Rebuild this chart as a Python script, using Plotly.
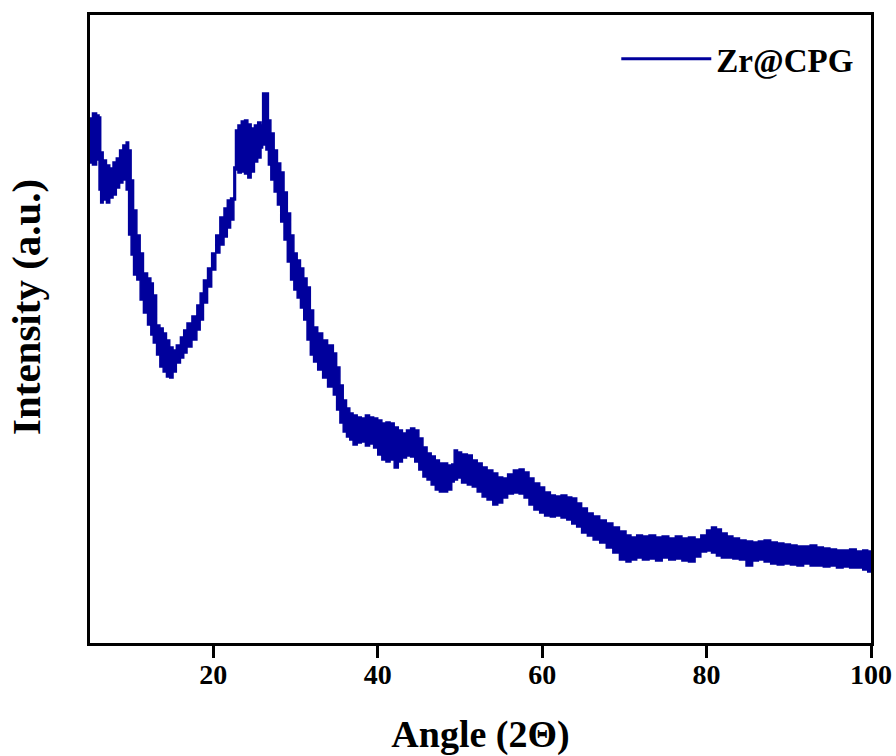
import plotly.graph_objects as go

# XRD pattern of Zr@CPG: noisy scan drawn as the band between the
# upper and lower envelope of the counts at each angle (arbitrary units).
angle = [
    5.0, 5.3, 5.8, 6.1, 6.3, 6.6, 7.0, 7.4, 7.8, 8.2, 8.6, 9.0, 9.4, 9.7,
    10.0, 10.3, 10.7, 11.1, 11.5, 12.0, 12.4, 12.7, 13.1, 13.5, 13.9, 14.3,
    14.7, 15.1, 15.5, 16.0, 16.4, 16.8, 17.4, 18.0, 18.4, 18.8, 19.3, 19.8,
    20.3, 20.8, 21.3, 21.7, 22.1, 22.5, 22.7, 23.0, 23.4, 23.8, 24.2, 24.6,
    25.0, 25.4, 25.8, 26.0, 26.4, 26.7, 27.0, 27.4, 27.8, 28.2, 28.6, 29.0,
    29.4, 29.8, 30.2, 30.6, 31.0, 31.4, 31.8, 32.2, 32.7, 33.3, 33.9, 34.6,
    35.0, 35.4, 35.8, 36.2, 36.6, 37.0, 37.5, 38.0, 38.5, 39.0, 39.5, 40.0,
    40.5, 41.0, 41.5, 42.0, 42.5, 43.0, 43.5, 44.0, 44.5, 45.0, 45.5, 46.0,
    46.5, 47.0, 47.5, 48.0, 48.5, 49.0, 49.3, 49.7, 50.2, 50.9, 51.5, 52.1,
    52.7, 53.3, 54.0, 54.6, 55.2, 55.8, 56.5, 57.2, 57.8, 58.4, 59.0, 59.7,
    60.3, 61.0, 61.6, 62.3, 63.0, 63.6, 64.2, 64.8, 65.5, 66.2, 67.0, 67.8,
    68.6, 69.4, 70.2, 70.8, 71.5, 72.2, 73.0, 73.8, 74.6, 75.4, 76.2, 77.0,
    77.8, 78.6, 79.3, 80.0, 80.6, 81.2, 81.8, 82.5, 83.2, 84.0, 84.8, 85.6,
    86.3, 87.0, 87.8, 88.6, 89.4, 90.2, 91.0, 91.8, 92.6, 93.4, 94.2, 95.0,
    95.8, 96.6, 97.4, 98.2, 99.0, 99.6, 100.0,
]

intensity_high = [
    525, 530, 528, 526, 491, 483, 478, 475, 481, 485, 493, 498, 501, 493,
    463, 433, 408, 390, 370, 365, 360, 348, 318, 315, 310, 303,
    296, 293, 298, 306, 313, 320, 327, 338, 350, 363, 375, 390,
    408, 426, 435, 443, 445, 443, 513, 518, 522, 523, 519, 515,
    518, 521, 518, 550, 550, 523, 510, 493, 480, 471, 451, 430,
    408, 390, 383, 375, 365, 356, 333, 316, 310, 303, 298, 290,
    276, 258, 243, 235, 230, 228, 226, 225, 228, 226, 225, 223,
    220, 221, 220, 216, 213, 210, 213, 215, 213, 205, 196, 190,
    187, 183, 180, 180, 178, 179, 193, 191, 189, 188, 183, 180,
    176, 173, 170, 166, 165, 169, 173, 174, 171, 165, 160, 156,
    151, 148, 147, 148, 146, 145, 140, 135, 130, 127, 123, 120,
    116, 112, 108, 106, 108, 107, 108, 106, 107, 105, 107, 105,
    106, 104, 108, 113, 116, 114, 110, 107, 105, 103, 102, 101,
    102, 103, 101, 100, 99, 98, 97, 97, 98, 96, 95, 94,
    93, 93, 94, 92, 93, 92, 91,
]

intensity_low = [
    483, 480, 478, 483, 453, 440, 443, 440, 445, 448, 455, 460, 463, 453,
    408, 388, 368, 363, 343, 330, 318, 308, 300, 288, 276, 271,
    266, 265, 271, 280, 285, 290, 296, 303, 313, 323, 340, 356,
    373, 390, 398, 406, 415, 423, 476, 473, 470, 471, 469, 465,
    471, 481, 485, 495, 498, 493, 478, 463, 451, 438, 421, 403,
    381, 363, 353, 345, 335, 323, 303, 288, 281, 273, 265, 256,
    248, 233, 220, 211, 206, 203, 198, 200, 201, 197, 199, 195,
    188, 183, 181, 183, 175, 181, 185, 187, 186, 181, 173, 166,
    163, 158, 153, 151, 151, 153, 161, 163, 165, 160, 158, 156,
    151, 146, 143, 138, 140, 145, 149, 150, 149, 145, 138, 133,
    130, 127, 126, 127, 125, 123, 119, 116, 110, 107, 103, 100,
    95, 90, 83, 81, 83, 85, 83, 84, 82, 85, 83, 84,
    82, 81, 86, 91, 92, 90, 87, 85, 85, 84, 83, 77,
    82, 83, 81, 79, 78, 79, 78, 77, 79, 77, 77, 76,
    77, 75, 76, 75, 75, 73, 71,
]

x_ticks = [20, 40, 60, 80, 100]

LINE_COLOR = "#00009C"
SERIF = "Liberation Serif"

fig = go.Figure()

# Noise band: walk along the upper envelope, then back along the lower one.
fig.add_trace(go.Scatter(
    x=angle + angle[::-1],
    y=intensity_high + intensity_low[::-1],
    mode="lines",
    fill="toself",
    fillcolor=LINE_COLOR,
    line=dict(color=LINE_COLOR, width=1.5, shape="hv"),
    showlegend=False,
    hoverinfo="skip",
))

# Legend entry for the sample
fig.add_trace(go.Scatter(
    x=[None], y=[None],
    mode="lines",
    name="Zr@CPG",
    line=dict(color=LINE_COLOR, width=3),
))

fig.update_layout(
    width=896,
    height=756,
    margin=dict(l=90, r=25, t=15, b=113),
    paper_bgcolor="white",
    plot_bgcolor="white",
    showlegend=True,
    legend=dict(
        x=0.985, y=0.975, xanchor="right", yanchor="top",
        bgcolor="rgba(0,0,0,0)",
        font=dict(family=SERIF, size=33, color="black", weight="bold"),
        itemwidth=90,
    ),
    xaxis=dict(
        range=[5, 100],
        tickvals=x_ticks,
        ticktext=[str(t) for t in x_ticks],
        ticks="outside",
        ticklen=12,
        tickwidth=2.5,
        tickcolor="black",
        tickfont=dict(family="Liberation Sans Narrow", size=28, color="black", weight="bold"),
        ticklabelstandoff=-8,
        ticklabeloverflow="allow",
        automargin=False,
        showline=True,
        linecolor="black",
        linewidth=3,
        mirror=True,
        showgrid=False,
        zeroline=False,
        title=dict(
            text="Angle (2Θ)",
            font=dict(family=SERIF, size=38, color="black", weight="bold"),
            standoff=39,
        ),
    ),
    yaxis=dict(
        range=[0, 628],
        showticklabels=False,
        ticks="",
        automargin=False,
        showline=True,
        linecolor="black",
        linewidth=3,
        mirror=True,
        showgrid=False,
        zeroline=False,
    ),
    annotations=[
        dict(
            text="Intensity (a.u.)",
            textangle=-90,
            xref="paper", yref="paper",
            x=0, y=0.535,
            xanchor="center", yanchor="middle",
            xshift=-64,
            showarrow=False,
            font=dict(family=SERIF, size=41, color="black", weight="bold"),
        )
    ],
)

fig.write_html("out.html")
